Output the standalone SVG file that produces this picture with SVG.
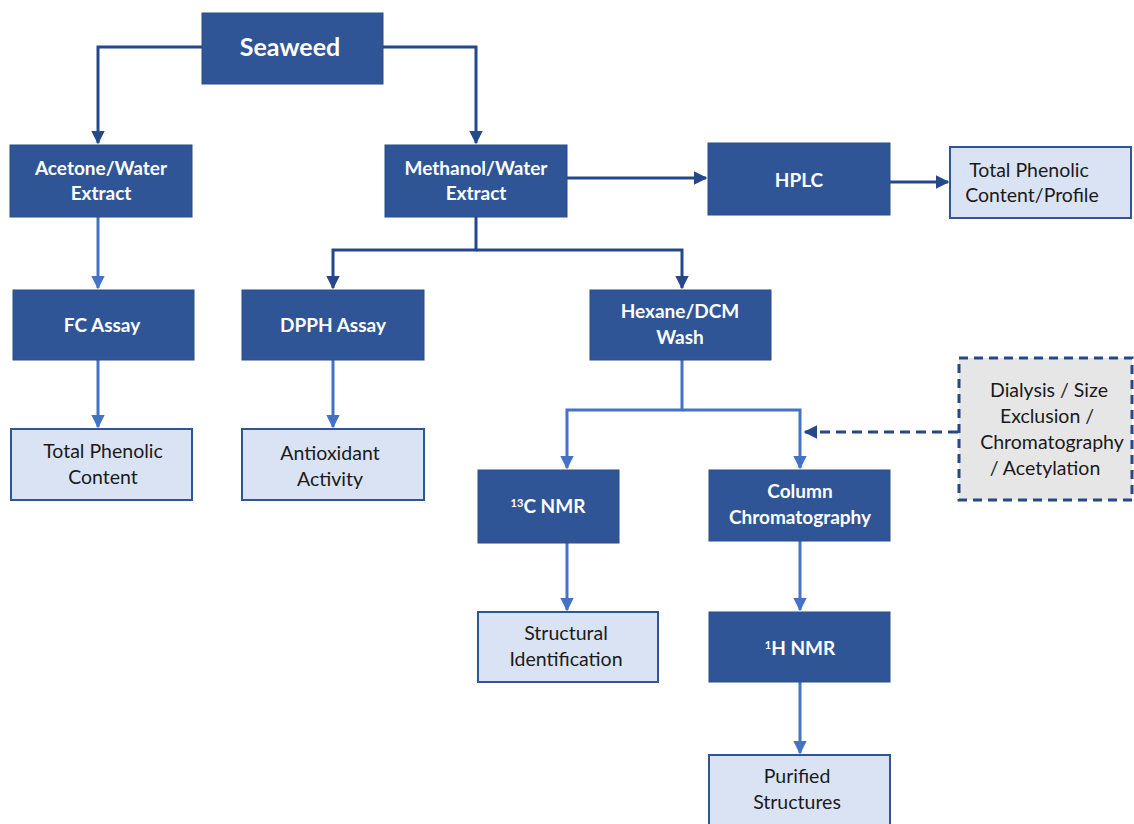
<svg xmlns="http://www.w3.org/2000/svg" width="1134" height="824" viewBox="0 0 1134 824">
<style>
.dk{fill:#2f5597;stroke:#2a4d8a;stroke-width:1}
.lt{fill:#dae3f3;stroke:#2f5597;stroke-width:2}
.ds{fill:#e7e6e6;stroke:#24488a;stroke-width:3;stroke-dasharray:9 6}
.tw{font-family:Lato,"Open Sans",sans-serif;font-weight:bold;font-size:19px;fill:#ffffff;text-anchor:middle}
.tb{font-family:Lato,"Open Sans",sans-serif;font-size:19.5px;fill:#1a1a1a;text-anchor:middle}
.c1{fill:none;stroke:#24488a;stroke-width:3}
.c2{fill:none;stroke:#4472c4;stroke-width:3}
.c3{fill:none;stroke:#24488a;stroke-width:3;stroke-dasharray:10 6}
</style>
<defs>
<marker id="a1" viewBox="0 0 10 10" refX="9" refY="5" markerWidth="4.5" markerHeight="4.5" orient="auto"><path d="M0,0L10,5L0,10z" fill="#24488a"/></marker>
<marker id="a2" viewBox="0 0 10 10" refX="9" refY="5" markerWidth="4.5" markerHeight="4.5" orient="auto"><path d="M0,0L10,5L0,10z" fill="#4472c4"/></marker>
</defs>
<rect width="1134" height="824" fill="#ffffff"/>
<g id="connectors">
<path class="c1" d="M202,47H98V143" marker-end="url(#a1)"/>
<path class="c1" d="M383,47H476V143" marker-end="url(#a1)"/>
<path class="c1" d="M567,178H706" marker-end="url(#a1)"/>
<path class="c1" d="M890,182H948" marker-end="url(#a1)"/>
<path class="c2" d="M98,217V288" marker-end="url(#a2)"/>
<path class="c2" d="M98,360V427" marker-end="url(#a2)"/>
<path class="c1" d="M476,217V250H333V288" marker-end="url(#a1)"/>
<path class="c1" d="M476,250H682V288" marker-end="url(#a1)"/>
<path class="c2" d="M333,360V427" marker-end="url(#a2)"/>
<path class="c2" d="M682,360V410H567V468" marker-end="url(#a2)"/>
<path class="c2" d="M682,410H800V468" marker-end="url(#a2)"/>
<path class="c3" d="M958,432H805" marker-end="url(#a1)"/>
<path class="c2" d="M567,543V610" marker-end="url(#a2)"/>
<path class="c2" d="M800,541V610" marker-end="url(#a2)"/>
<path class="c2" d="M800,682V753" marker-end="url(#a2)"/>
</g>
<g id="seaweed"><rect class="dk" x="202" y="13" width="181" height="71"/><text class="tw" x="290" y="56" style="font-size:25px">Seaweed</text></g>
<g id="acetone"><rect class="dk" x="10" y="145" width="182" height="72"/><text class="tw" x="101" y="175">Acetone/Water</text><text class="tw" x="101" y="200">Extract</text></g>
<g id="methanol"><rect class="dk" x="385" y="145" width="182" height="72"/><text class="tw" x="476" y="175">Methanol/Water</text><text class="tw" x="476" y="200">Extract</text></g>
<g id="hplc"><rect class="dk" x="708" y="143" width="182" height="72"/><text class="tw" x="799" y="187">HPLC</text></g>
<g id="tpc-profile"><rect class="lt" x="950" y="147" width="181" height="71"/><text class="tb" x="1029" y="177">Total Phenolic</text><text class="tb" x="1032" y="202">Content/Profile</text></g>
<g id="fc"><rect class="dk" x="13" y="290" width="181" height="70"/><text class="tw" x="102" y="332">FC Assay</text></g>
<g id="dpph"><rect class="dk" x="242" y="290" width="182" height="70"/><text class="tw" x="333" y="332">DPPH Assay</text></g>
<g id="hexane"><rect class="dk" x="590" y="290" width="181" height="70"/><text class="tw" x="680" y="318">Hexane/DCM</text><text class="tw" x="680" y="344">Wash</text></g>
<g id="tpc"><rect class="lt" x="11" y="429" width="181" height="71"/><text class="tb" x="103" y="458">Total Phenolic</text><text class="tb" x="103" y="484">Content</text></g>
<g id="antiox"><rect class="lt" x="242" y="429" width="182" height="71"/><text class="tb" x="330" y="460">Antioxidant</text><text class="tb" x="330" y="486">Activity</text></g>
<g id="dialysis"><rect class="ds" x="959" y="358" width="173" height="142"/><text class="tb" x="1049" y="397">Dialysis / Size</text><text class="tb" x="1047" y="423">Exclusion /</text><text class="tb" x="1052" y="449">Chromatography</text><text class="tb" x="1045" y="475">/ Acetylation</text></g>
<g id="c13nmr"><rect class="dk" x="478" y="470" width="141" height="73"/><text class="tw" x="548" y="513"><tspan font-size="11" dy="-6">13</tspan><tspan dy="6">C NMR</tspan></text></g>
<g id="column"><rect class="dk" x="709" y="470" width="181" height="71"/><text class="tw" x="800" y="498">Column</text><text class="tw" x="800" y="524">Chromatography</text></g>
<g id="structural"><rect class="lt" x="478" y="612" width="180" height="70"/><text class="tb" x="566" y="640">Structural</text><text class="tb" x="566" y="666">Identification</text></g>
<g id="h1nmr"><rect class="dk" x="709" y="612" width="181" height="70"/><text class="tw" x="800" y="655"><tspan font-size="11" dy="-6">1</tspan><tspan dy="6">H NMR</tspan></text></g>
<g id="purified"><rect class="lt" x="709" y="755" width="181" height="72"/><text class="tb" x="797" y="783">Purified</text><text class="tb" x="797" y="809">Structures</text></g>
</svg>
